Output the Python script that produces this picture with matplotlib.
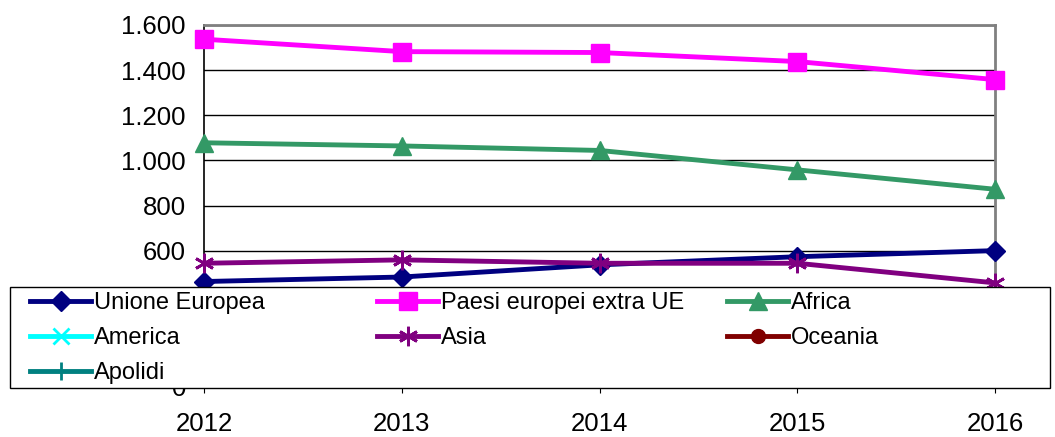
import matplotlib
matplotlib.use('agg')
import matplotlib.pyplot as plt
from matplotlib.patches import Rectangle
import numpy as np

plt.rcParams['font.family'] = ['Liberation Sans', 'DejaVu Sans']

anni = ['2012', '2013', '2014', '2015', '2016']
unione_europea = [463, 483, 537, 573, 600]
paesi_extra_ue = [1537, 1482, 1478, 1438, 1358]
africa = [1078, 1064, 1044, 958, 872]
america = [250, 240, 235, 230, 220]
asia = [544, 559, 544, 544, 457]
oceania = [35, 32, 36, 34, 33]
apolidi = [40, 42, 39, 38, 37]

y_ticks = [0, 200, 400, 600, 800, 1000, 1200, 1400, 1600]
y_labels = ['0', '200', '400', '600', '800', '1.000', '1.200', '1.400', '1.600']

fig = plt.figure(figsize=(10.55, 4.37), dpi=100)
ax = fig.add_axes([204 / 1055, 1 - 386 / 437, (995 - 204) / 1055, (386 - 25) / 437])

x = np.arange(len(anni))
series = {
    "Unione Europea": (unione_europea, "#000080", "D", 10),
    "Paesi europei extra UE": (paesi_extra_ue, "#FF00FF", "s", 13),
    "Africa": (africa, "#339966", "^", 13),
    "America": (america, "#00FFFF", "x", 11),
    "Asia": (asia, "#800080", (6, 2, 0), 14),
    "Oceania": (oceania, "#800000", "o", 10),
    "Apolidi": (apolidi, "#008080", "+", 13),
}
handles = {}
for label, (vals, color, marker, ms) in series.items():
    mew = 2 if marker in ("x", "+", (6, 2, 0)) else 1
    h, = ax.plot(x, vals, color=color, lw=3.5, marker=marker, markersize=ms,
                 markeredgewidth=mew, label=label, clip_on=False, zorder=3)
    handles[label] = h

ax.set_xlim(0, len(anni) - 1)
ax.set_ylim(0, 1600)
ax.set_yticks(y_ticks)
ax.set_yticklabels(y_labels, fontsize=18.5)
ax.set_xticks(x)
ax.set_xticklabels(anni, fontsize=18.5)
ax.yaxis.grid(True, color='black', lw=1)
ax.set_axisbelow(True)
ax.tick_params(axis='y', length=0, pad=13)
ax.tick_params(axis='x', length=5, direction='out', pad=14, color='black')
for side in ['top', 'right', 'bottom']:
    ax.spines[side].set_color('#808080')
    ax.spines[side].set_linewidth(2)
ax.spines['left'].set_color('black')
ax.spines['left'].set_linewidth(1.2)

# legend box, drawn as three columns like the original
frame = Rectangle((10 / 1055, 1 - 388 / 437), 1040 / 1055, 101 / 437,
                  transform=fig.transFigure, facecolor='white',
                  edgecolor='black', lw=1, zorder=9)
fig.add_artist(frame)
columns = [
    (30, ["Unione Europea", "America", "Apolidi"]),
    (377, ["Paesi europei extra UE", "Asia"]),
    (727, ["Africa", "Oceania"]),
]
for x0, names in columns:
    leg = fig.legend(handles=[handles[n] for n in names], loc='upper left',
                     bbox_to_anchor=(x0 / 1055, 1 - 292 / 437),
                     fontsize=17, frameon=False, handlelength=2.6,
                     handletextpad=0.1, borderpad=0, borderaxespad=0,
                     labelspacing=0.55)
    leg.set_zorder(10)

fig.savefig('out.png', dpi=100)
